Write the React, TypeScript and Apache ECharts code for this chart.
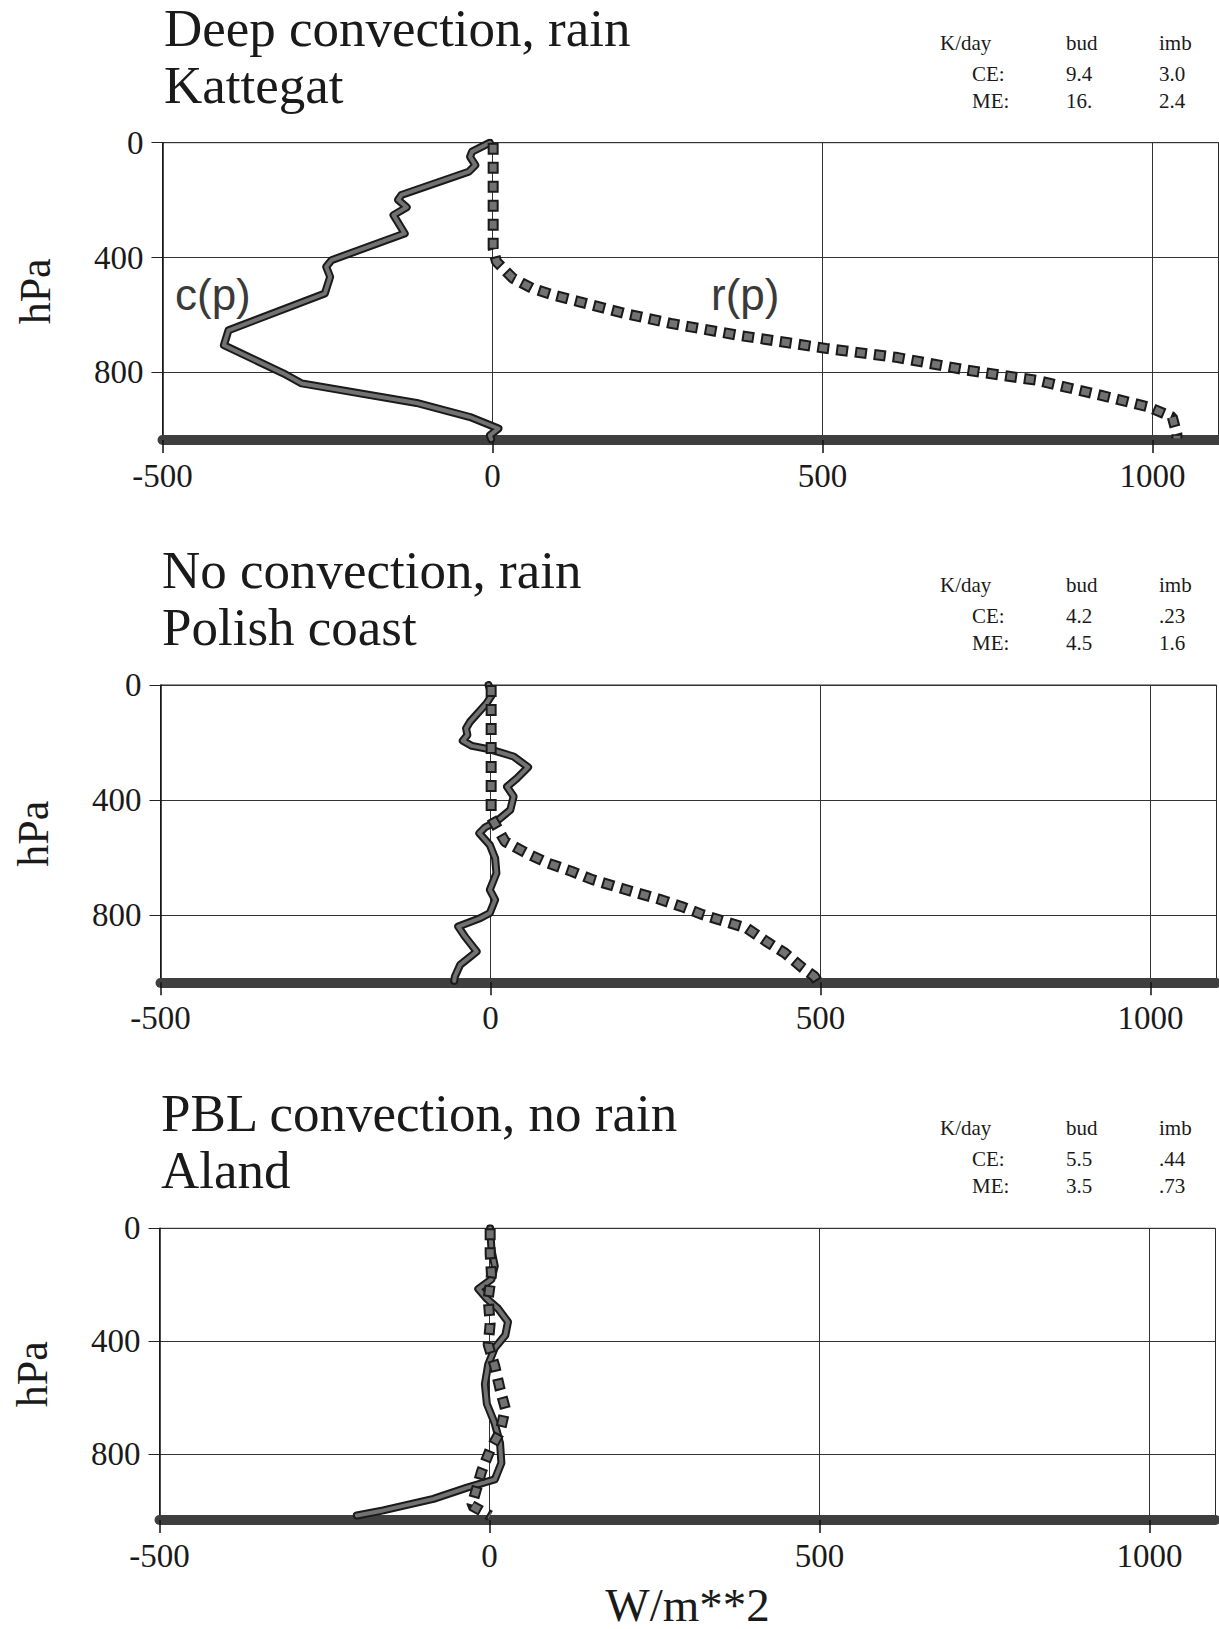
import React, { useEffect, useRef } from "react";
import * as echarts from "echarts";

// ---- data (x = W/m**2, p = hPa) ----
const xTicks = [-500, 0, 500, 1000];
const yTicks = [0, 400, 800];

const kattegatC = [
  [-4, 0], [-31, 31], [-34, 49], [-26, 78], [-36, 101], [-138, 182], [-143, 199], [-130, 225],
  [-150, 252], [-133, 316], [-244, 409], [-252, 432], [-246, 467], [-254, 525], [-400, 653],
  [-407, 705], [-317, 803], [-289, 838], [-115, 906], [-34, 955], [9, 995], [-4, 1019], [-2, 1032],
];
const kattegatR = [
  [1, 0], [1, 370], [6, 414], [31, 472], [60, 507], [93, 531], [132, 554], [201, 595], [270, 629],
  [371, 670], [505, 716], [614, 748], [719, 792], [824, 827], [921, 879], [994, 920], [1030, 955],
  [1037, 1015], [1037, 1030],
];
const polishC = [
  [-3, 0], [2, 35], [-6, 64], [-31, 128], [-37, 151], [-35, 174], [-42, 194], [-28, 212], [-1, 224],
  [35, 249], [57, 286], [40, 325], [25, 354], [35, 388], [30, 435], [9, 475], [-8, 495], [-17, 516],
  [-1, 557], [7, 603], [9, 655], [-1, 713], [7, 748], [-1, 794], [-16, 812], [-49, 841], [-39, 875],
  [-21, 928], [-46, 974], [-54, 1015], [-55, 1030],
];
const polishR = [
  [1, 0], [1, 460], [22, 545], [55, 586], [87, 620], [123, 649], [155, 678], [188, 701], [224, 725],
  [256, 746], [289, 771], [322, 800], [355, 823], [388, 846], [418, 893], [446, 933], [473, 985],
  [491, 1015], [495, 1030],
];
const alandC = [
  [1, 0], [3, 76], [8, 134], [3, 181], [-17, 215], [-4, 250], [13, 285], [28, 332], [24, 379],
  [8, 425], [-2, 483], [-7, 553], [-4, 623], [8, 693], [16, 763], [18, 833], [8, 891], [-34, 920],
  [-85, 960], [-161, 1001], [-201, 1019],
];
const alandR = [
  [1, 0], [1, 90], [3, 165], [-2, 250], [1, 338], [-2, 413], [8, 489], [16, 571], [24, 640],
  [16, 722], [1, 786], [-12, 862], [-27, 984], [1, 1020],
];

const titles = [
  ["Deep convection, rain", "Kattegat"],
  ["No convection, rain", "Polish coast"],
  ["PBL convection, no rain", "Aland"],
];
const statHeader = ["K/day", "bud", "imb"];
const statRows = ["CE:", "ME:"];
const kattegatStats = [["9.4", "3.0"], ["16.", "2.4"]];
const polishStats = [["4.2", ".23"], ["4.5", "1.6"]];
const alandStats = [["5.5", ".44"], ["3.5", ".73"]];

const X_MIN = -500;
const X_MAX = 1100;
const P_MAX = 1035;

// ---- layout ----
const SERIF = '"Liberation Serif", "Times New Roman", serif';
const SANS = '"Liberation Sans", Arial, sans-serif';
const GRID_LEFT = [162.5, 160.5, 159.5];
const GRID_TOP = [142.7, 685, 1228.3];
const GRID_W = 1056;
const GRID_H = 297.3;
const INK = "#1a1a1a";
const LINE_DARK = "#1a1a1a";
const LINE_FILL = "#727272";

export default function App() {
  const ref = useRef<HTMLDivElement>(null);

  useEffect(() => {
    if (!ref.current) return;
    const chart = echarts.init(ref.current, undefined, { renderer: "svg" });

    const cs = [kattegatC, polishC, alandC];
    const rs = [kattegatR, polishR, alandR];
    const stats = [kattegatStats, polishStats, alandStats];

    const grids: any[] = [];
    const xAxes: any[] = [];
    const yAxes: any[] = [];
    const series: any[] = [];
    const graphic: any[] = [];

    const txt = (
      text: string,
      x: number,
      y: number,
      size: number,
      family: string,
      align = "left",
      color = INK
    ) => ({
      type: "text",
      x,
      y,
      silent: true,
      style: {
        text,
        fontSize: size,
        fontFamily: family,
        lineHeight: Math.round(size * 0.95),
        fill: color,
        align,
        verticalAlign: "middle",
        textAlign: align,
        textVerticalAlign: "middle",
      },
    });

    for (let i = 0; i < 3; i++) {
      grids.push({
        left: GRID_LEFT[i],
        top: GRID_TOP[i],
        width: GRID_W,
        height: GRID_H,
        show: true,
        borderColor: "#2a2a2a",
        borderWidth: 1,
        backgroundColor: "transparent",
      });
      xAxes.push({
        type: "value",
        gridIndex: i,
        min: X_MIN,
        max: X_MAX,
        interval: 500,
        position: "bottom",
        name: i === 2 ? "W/m**2" : "",
        nameLocation: "middle",
        nameGap: 61,
        nameTextStyle: { fontSize: 47, fontFamily: SERIF, color: INK },
        axisLine: { show: true, onZero: false, lineStyle: { color: "#3f3f3f", width: 10 } },
        axisTick: { show: true, length: 13, customValues: xTicks, lineStyle: { color: "#111", width: 1.5 } },
        axisLabel: {
          show: true,
          customValues: xTicks,
          margin: 19,
          fontSize: 33,
          fontFamily: SERIF,
          color: INK,
          formatter: (v: number) => String(v),
        },
        splitLine: { show: true, lineStyle: { color: "#333", width: 1 } },
      });
      yAxes.push({
        type: "value",
        gridIndex: i,
        inverse: true,
        min: 0,
        max: P_MAX,
        interval: 400,
        name: "hPa",
        nameLocation: "middle",
        nameGap: 105,
        nameTextStyle: { fontSize: 44, fontFamily: SERIF, color: INK },
        axisLine: { show: true, onZero: false, lineStyle: { color: "#111", width: 1.5 } },
        axisTick: { show: true, length: 11, customValues: yTicks, lineStyle: { color: "#222", width: 1 } },
        axisLabel: {
          show: true,
          customValues: yTicks,
          margin: 19,
          fontSize: 33,
          fontFamily: SERIF,
          color: INK,
          formatter: (v: number) => String(v),
        },
        splitLine: { show: true, lineStyle: { color: "#333", width: 1 } },
      });

      const base = { type: "line", xAxisIndex: i, yAxisIndex: i, showSymbol: false, symbol: "none", silent: true };
      series.push({ ...base, data: cs[i], z: 3, lineStyle: { color: LINE_DARK, width: 8, join: "round", cap: "round" } });
      series.push({ ...base, data: cs[i], z: 4, lineStyle: { color: LINE_FILL, width: 4, join: "round", cap: "round" } });
      series.push({ ...base, data: rs[i], z: 5, lineStyle: { color: LINE_DARK, width: 11, type: [12, 7], cap: "butt" } });
      series.push({
        ...base,
        data: rs[i],
        z: 6,
        lineStyle: { color: LINE_FILL, width: 7, type: [8, 11], dashOffset: -2, cap: "butt" },
      });

      // titles
      const T = GRID_TOP[i];
      const L = GRID_LEFT[i] + 1.5;
      graphic.push(txt(titles[i][0], L, T - 115, 53, SERIF));
      graphic.push(txt(titles[i][1], L, T - 58, 53, SERIF));
      // stats table
      graphic.push(txt(statHeader[0], 940, T - 100, 21, SERIF));
      graphic.push(txt(statHeader[1], 1066, T - 100, 21, SERIF));
      graphic.push(txt(statHeader[2], 1159, T - 100, 21, SERIF));
      for (let r = 0; r < 2; r++) {
        const yy = T - 69 + r * 27;
        graphic.push(txt(statRows[r], 972, yy, 21, SERIF));
        graphic.push(txt(stats[i][r][0], 1066, yy, 21, SERIF));
        graphic.push(txt(stats[i][r][1], 1159, yy, 21, SERIF));
      }
    }

    // curve labels in the first panel
    graphic.push(txt("c(p)", 175, 294, 44, SANS, "left", "#3a3a3a"));
    graphic.push(txt("r(p)", 711, 294, 44, SANS, "left", "#3a3a3a"));

    chart.setOption({
      animation: false,
      backgroundColor: "#ffffff",
      grid: grids,
      xAxis: xAxes,
      yAxis: yAxes,
      series,
      graphic,
    });

    return () => chart.dispose();
  }, []);

  return (
    <div
      ref={ref}
      style={{ position: "absolute", left: 0, top: 0, width: 1219, height: 1629 }}
    />
  );
}
